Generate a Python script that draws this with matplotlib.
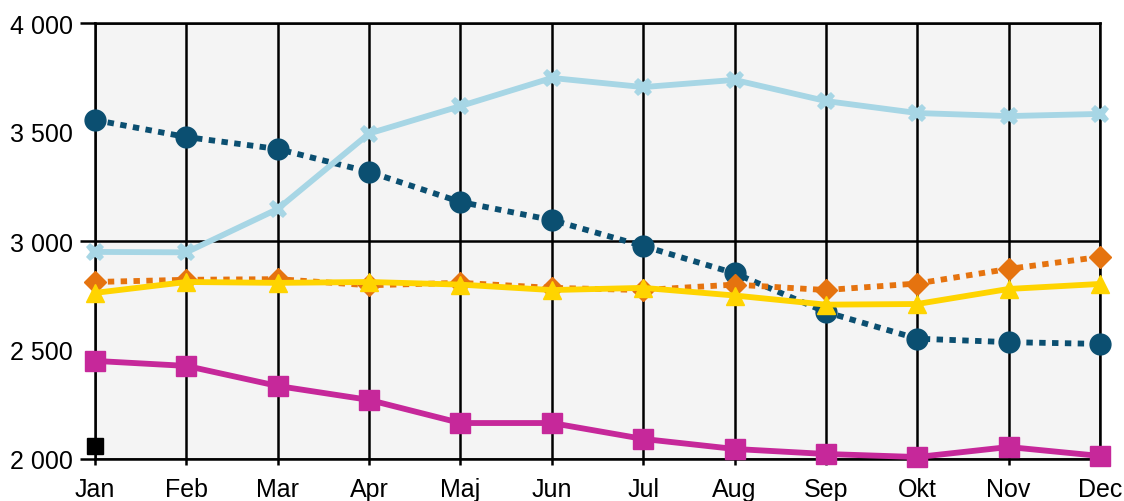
import matplotlib.pyplot as plt
from matplotlib.ticker import FixedLocator, FuncFormatter

plt.rcParams['font.family'] = ['Liberation Sans', 'DejaVu Sans']

months = ['Jan', 'Feb', 'Mar', 'Apr', 'Maj', 'Jun', 'Jul', 'Aug', 'Sep', 'Okt', 'Nov', 'Dec']

# serier
dark_blue = [3555, 3477, 3422, 3317, 3179, 3096, 2977, 2852, 2674, 2552, 2536, 2528]
light_blue = [2950, 2948, 3147, 3493, 3619, 3748, 3706, 3739, 3642, 3587, 3573, 3583]
orange = [2812, 2822, 2825, 2797, 2808, 2785, 2775, 2800, 2775, 2805, 2872, 2927]
yellow = [2762, 2812, 2808, 2812, 2800, 2775, 2785, 2750, 2708, 2711, 2780, 2803]
magenta = [2450, 2427, 2335, 2271, 2165, 2165, 2092, 2046, 2023, 2009, 2055, 2014]
black = [2060]

x = list(range(len(months)))

fig = plt.figure(figsize=(11.24, 5.02), dpi=100)
ax = fig.add_axes([95 / 1124, 1 - 460 / 502, 1005 / 1124, 436 / 502])
ax.set_facecolor('#f4f4f4')

lw = 4.2
ax.plot(x, dark_blue, color='#0b4f71', lw=lw, linestyle=(0, (1.1, 1.1)),
        dash_capstyle='butt', marker='o', markersize=15, clip_on=False, zorder=3)
ax.plot(x, light_blue, color='#a7d6e5', lw=lw, marker='X', markersize=13,
        markeredgewidth=0, clip_on=False, zorder=4)
ax.plot(x, orange, color='#e5730f', lw=lw, linestyle=(0, (1.1, 1.1)),
        dash_capstyle='butt', marker='D', markersize=11, clip_on=False, zorder=5)
ax.plot(x, yellow, color='#ffd400', lw=lw, marker='^', markersize=13,
        clip_on=False, zorder=6)
ax.plot(x, magenta, color='#c6289a', lw=lw, marker='s', markersize=14,
        clip_on=False, zorder=7)
ax.plot(x[:1], black, color='black', linestyle='none', marker='s', markersize=12,
        clip_on=False, zorder=8)

ax.set_xlim(0, 11)
ax.set_ylim(2000, 4000)
ax.set_xticks(x)
ax.set_xticklabels(months)

fmt = FuncFormatter(lambda v, p: f'{int(v):,}'.replace(',', ' '))
ax.yaxis.set_major_locator(FixedLocator([2000, 3000, 4000]))
ax.yaxis.set_minor_locator(FixedLocator([2500, 3500]))
ax.yaxis.set_major_formatter(fmt)
ax.yaxis.set_minor_formatter(fmt)

ax.tick_params(axis='y', which='major', length=11, width=1.8, pad=5, labelsize=18)
ax.tick_params(axis='y', which='minor', length=0, pad=16, labelsize=18)
ax.tick_params(axis='x', length=4, width=1.8, pad=9, labelsize=18)

ax.grid(True, which='major', color='black', linewidth=1.8, zorder=1)
ax.set_axisbelow(True)
for side in ['left', 'top', 'bottom', 'right']:
    ax.spines[side].set_linewidth(1.8)

fig.savefig('out.png', dpi=100)
